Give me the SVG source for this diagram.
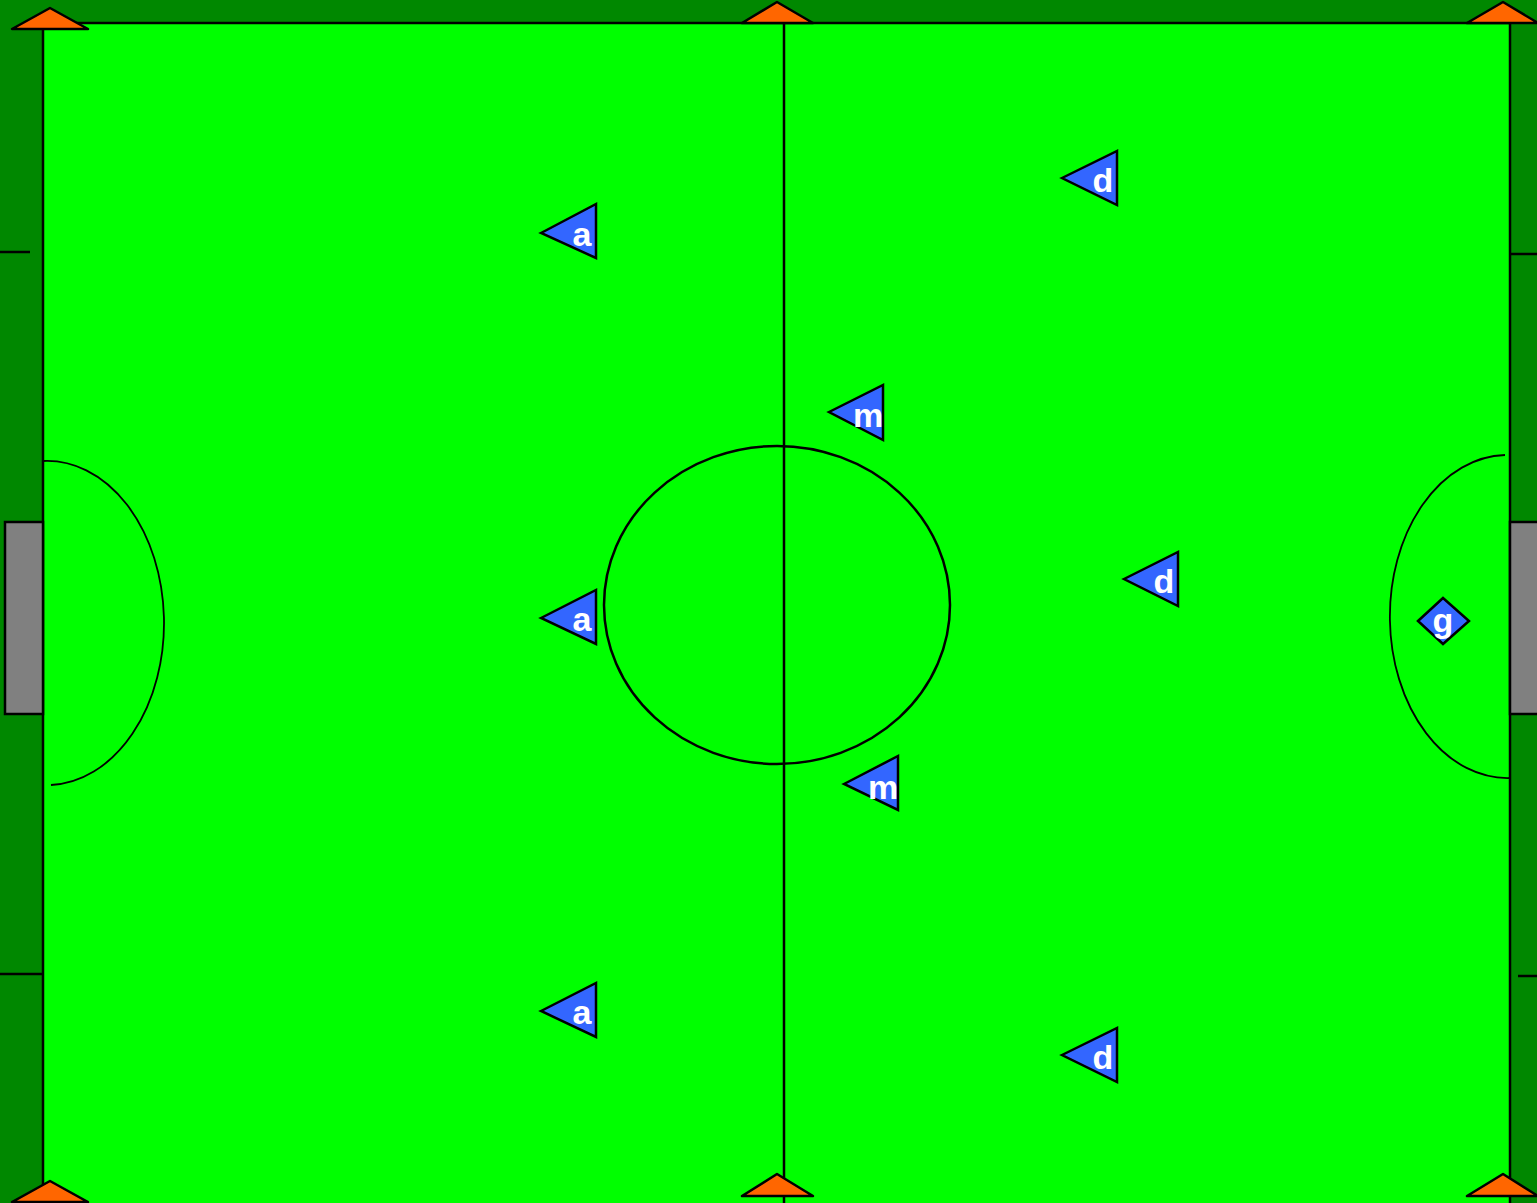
<svg xmlns="http://www.w3.org/2000/svg" width="1537" height="1203" viewBox="0 0 1537 1203">
<style>
.line{fill:none;stroke:#000;stroke-width:2.5}
.thin{fill:none;stroke:#000;stroke-width:1.8}
.cone{fill:#ff6600;stroke:#000;stroke-width:2.5;stroke-linejoin:round}
.goal{fill:#808080;stroke:#000;stroke-width:2.5}
.pl{fill:#3366ff;stroke:#000;stroke-width:2.5}
.lbl{font-family:"Liberation Sans",Arial,sans-serif;font-weight:bold;font-size:34px;fill:#fff;text-anchor:middle}
</style>
<rect x="0" y="0" width="1537" height="1203" fill="#008800"/>
<g id="field">
<rect x="43" y="23" width="1467" height="1190" fill="#00ff00" stroke="#000" stroke-width="2.5"/>
<line class="line" x1="784" y1="23" x2="784" y2="1203"/>
<ellipse class="line" cx="777" cy="605" rx="173" ry="159"/>
<path class="thin" d="M43,461 A58.5,81 0 0 1 51,785"/>
<path class="thin" d="M1505,455 A59,81 0 0 0 1510,778"/>
<rect class="goal" x="5" y="522" width="38" height="192"/>
<rect class="goal" x="1510" y="522" width="40" height="192"/>
<line class="line" x1="0" y1="252" x2="30" y2="252"/>
<line class="line" x1="0" y1="974" x2="43" y2="974"/>
<line class="line" x1="1510" y1="254" x2="1537" y2="254"/>
<line class="line" x1="1518" y1="976" x2="1537" y2="976"/>
</g>
<g id="cones">
<polygon class="cone" points="50,8 12,29 88,29"/>
<polygon class="cone" points="777,2 742,23 813,23"/>
<polygon class="cone" points="1503,2 1467,23 1538,23"/>
<polygon class="cone" points="50,1181 12,1202 88,1202"/>
<polygon class="cone" points="777,1174 742,1196 813,1196"/>
<polygon class="cone" points="1503,1174 1467,1196 1538,1196"/>
</g>
<g id="connectors"></g>
<g id="a1"><polygon class="pl" points="541,233 596,204 596,258"/><text class="lbl" x="582" y="246">a</text></g>
<g id="a2"><polygon class="pl" points="541,618 596,590 596,644"/><text class="lbl" x="582" y="631">a</text></g>
<g id="a3"><polygon class="pl" points="541,1011 596,983 596,1037"/><text class="lbl" x="582" y="1024">a</text></g>
<g id="m1"><polygon class="pl" points="829,412 883,385 883,440"/><text class="lbl" x="868" y="427">m</text></g>
<g id="m2"><polygon class="pl" points="844,784 898,756 898,810"/><text class="lbl" x="883" y="799">m</text></g>
<g id="d1"><polygon class="pl" points="1062,178 1117,151 1117,205"/><text class="lbl" x="1103" y="192">d</text></g>
<g id="d2"><polygon class="pl" points="1124,579 1178,552 1178,606"/><text class="lbl" x="1164" y="593">d</text></g>
<g id="d3"><polygon class="pl" points="1062,1055 1117,1028 1117,1082"/><text class="lbl" x="1103" y="1069">d</text></g>
<g id="g"><polygon class="pl" points="1418,621 1443,598 1469,621 1443,644"/><text class="lbl" x="1443" y="632">g</text></g>
</svg>
